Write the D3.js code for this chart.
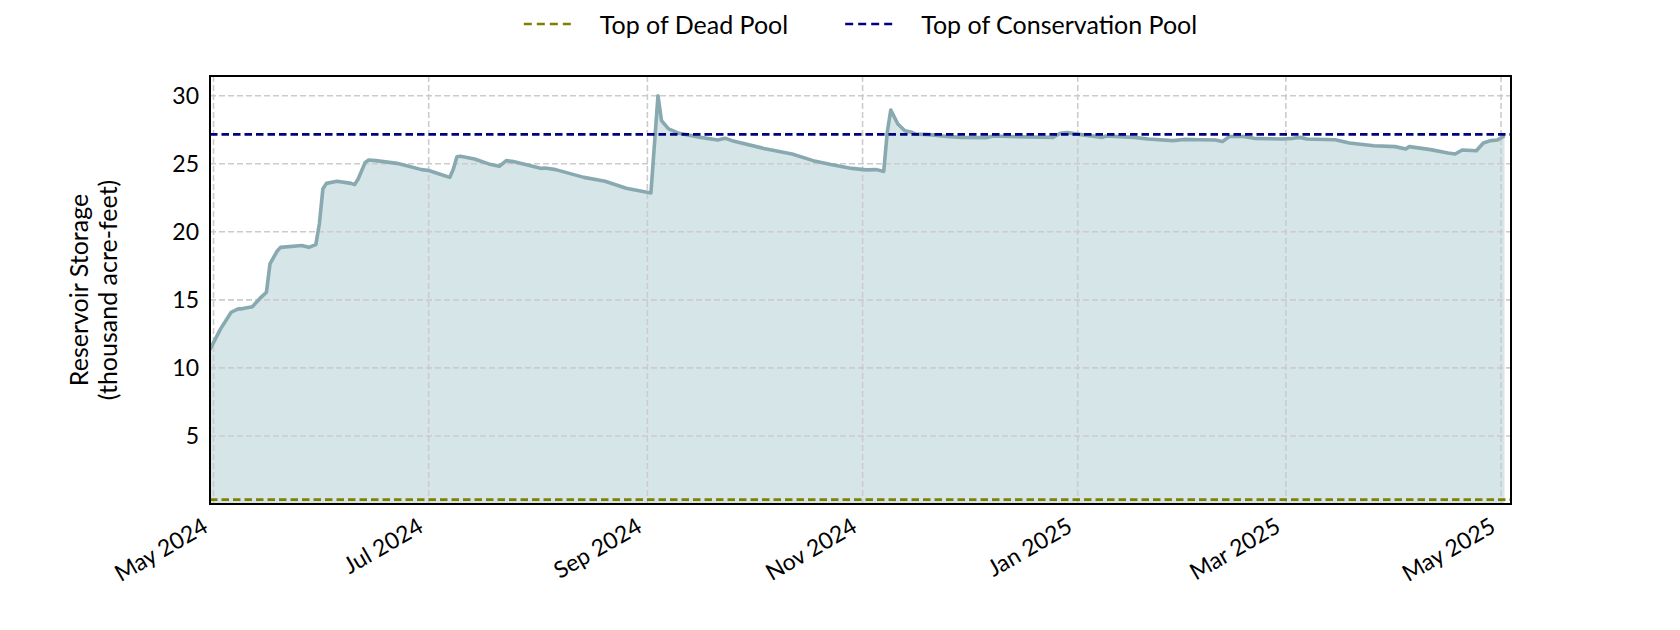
<!DOCTYPE html>
<html>
<head>
<meta charset="utf-8">
<script src="https://cdn.jsdelivr.net/npm/d3@7"></script>
<style>
  body { margin: 0; background: #fff; }
  svg { display: block; }
</style>
</head>
<body>
<svg id="chart" width="1680" height="630"></svg>
<script>
// daily storage readings (thousand acre-feet)
const dates = [
  "2024-04-30", "2024-05-03", "2024-05-06", "2024-05-08", "2024-05-09", "2024-05-12",
  "2024-05-14", "2024-05-16", "2024-05-17", "2024-05-19", "2024-05-20", "2024-05-26",
  "2024-05-28", "2024-05-30", "2024-05-31", "2024-06-01", "2024-06-02", "2024-06-05",
  "2024-06-09", "2024-06-10", "2024-06-11", "2024-06-13", "2024-06-14", "2024-06-16",
  "2024-06-22", "2024-06-29", "2024-07-01", "2024-07-04", "2024-07-07", "2024-07-08",
  "2024-07-09", "2024-07-10", "2024-07-14", "2024-07-18", "2024-07-21", "2024-07-23",
  "2024-07-25", "2024-08-02", "2024-08-03", "2024-08-06", "2024-08-14", "2024-08-20",
  "2024-08-26", "2024-09-02", "2024-09-04", "2024-09-05", "2024-09-07", "2024-09-10",
  "2024-09-16", "2024-09-21", "2024-09-23", "2024-09-25", "2024-10-04", "2024-10-12",
  "2024-10-18", "2024-10-23", "2024-10-29", "2024-11-02", "2024-11-05", "2024-11-07",
  "2024-11-08", "2024-11-09", "2024-11-11", "2024-11-13", "2024-11-15", "2024-11-16",
  "2024-11-20", "2024-11-25", "2024-11-29", "2024-12-06", "2024-12-08", "2024-12-18",
  "2024-12-25", "2024-12-27", "2024-12-29", "2025-01-02", "2025-01-08", "2025-01-09",
  "2025-01-17", "2025-01-21", "2025-01-28", "2025-01-31", "2025-02-05", "2025-02-09",
  "2025-02-11", "2025-02-13", "2025-02-17", "2025-02-20", "2025-02-28", "2025-03-03",
  "2025-03-05", "2025-03-07", "2025-03-15", "2025-03-19", "2025-03-26", "2025-04-01",
  "2025-04-04", "2025-04-05", "2025-04-11", "2025-04-16", "2025-04-18", "2025-04-20",
  "2025-04-24", "2025-04-26", "2025-04-28", "2025-04-30", "2025-05-02"
];
const storage = [
  11.35, 12.87, 14.09, 14.34, 14.34, 14.50,
  15.07, 15.56, 17.64, 18.57, 18.86, 18.99,
  18.86, 19.06, 20.58, 23.15, 23.56, 23.71,
  23.56, 23.47, 23.88, 25.10, 25.28, 25.23,
  25.03, 24.57, 24.50, 24.25, 24.00, 24.62,
  25.52, 25.55, 25.35, 24.99, 24.81, 25.23,
  25.16, 24.66, 24.69, 24.57, 24.00, 23.71,
  23.20, 22.86, 30.00, 28.17, 27.56, 27.24,
  26.94, 26.75, 26.87, 26.70, 26.13, 25.72,
  25.23, 24.94, 24.66, 24.55, 24.57, 24.44,
  27.31, 28.95, 27.92, 27.43, 27.31, 27.19,
  27.14, 27.01, 26.94, 26.92, 27.04, 26.97,
  26.94, 27.24, 27.29, 27.14, 26.94, 27.04,
  26.94, 26.82, 26.70, 26.79, 26.77, 26.75,
  26.63, 27.00, 27.00, 26.87, 26.82, 26.87,
  26.94, 26.82, 26.77, 26.53, 26.33, 26.26,
  26.09, 26.26, 26.04, 25.79, 25.72, 26.01,
  25.96, 26.53, 26.70, 26.75, 27.07
];

// pool levels
const deadPool = 0.32;
const conservationPool = 27.16;
const legendLabels = ["Top of Dead Pool", "Top of Conservation Pool"];

// ticks
const yTicks = [5, 10, 15, 20, 25, 30];
const xTickDates = ["2024-05-01", "2024-07-01", "2024-09-01", "2024-11-01", "2025-01-01", "2025-03-01", "2025-05-01"];
const xDomain = ["2024-04-30T00:00", "2025-05-03T20:00"];

const parse = d3.timeParse("%Y-%m-%d");
const parseT = d3.timeParse("%Y-%m-%dT%H:%M");
const data = dates.map((d, i) => ({ date: parse(d), value: storage[i] }));

const svg = d3.select('#chart');
const font = 'Lato, "Open Sans", sans-serif';
const pLeft = 210, pRight = 1511, pTop = 76, pBottom = 504;

const x = d3.scaleTime().domain(xDomain.map(parseT)).range([pLeft, pRight]);
const y = d3.scaleLinear().domain([0, 31.45]).range([pBottom, pTop]);

svg.append('rect').attr('width', 1680).attr('height', 630).attr('fill', '#fff');

svg.append('defs').append('clipPath').attr('id', 'plot-clip')
  .append('rect').attr('x', pLeft).attr('y', pTop).attr('width', pRight - pLeft).attr('height', pBottom - pTop);

const plot = svg.append('g').attr('clip-path', 'url(#plot-clip)');

// filled storage
plot.append('path')
  .datum(data)
  .attr('fill', '#d6e5e8')
  .attr('d', d3.area().x(d => x(d.date)).y0(y(0)).y1(d => y(d.value)));

// grid, drawn over the fill
plot.selectAll('line.gx')
  .data(xTickDates.map(parse))
  .enter().append('line')
    .attr('class', 'gx')
    .attr('x1', d => x(d)).attr('x2', d => x(d))
    .attr('y1', pTop).attr('y2', pBottom)
    .attr('stroke', '#cccccc').attr('stroke-width', 1.6)
    .attr('stroke-dasharray', '6,3');
plot.selectAll('line.gy')
  .data(yTicks)
  .enter().append('line')
    .attr('class', 'gy')
    .attr('x1', pLeft).attr('x2', pRight)
    .attr('y1', d => y(d)).attr('y2', d => y(d))
    .attr('stroke', '#cccccc').attr('stroke-width', 1.6)
    .attr('stroke-dasharray', '6,3');

// storage line
plot.append('path')
  .datum(data)
  .attr('fill', 'none')
  .attr('stroke', '#88a9b0')
  .attr('stroke-width', 3.6)
  .attr('stroke-linejoin', 'round')
  .attr('d', d3.line().x(d => x(d.date)).y(d => y(d.value)));

// pool reference lines
const pools = [
  { value: deadPool, color: '#808000', label: legendLabels[0] },
  { value: conservationPool, color: '#000080', label: legendLabels[1] }
];
plot.selectAll('line.pool')
  .data(pools)
  .enter().append('line')
    .attr('class', 'pool')
    .attr('x1', pLeft).attr('x2', pRight)
    .attr('y1', d => y(d.value)).attr('y2', d => y(d.value))
    .attr('stroke', d => d.color).attr('stroke-width', 2.7)
    .attr('stroke-dasharray', '7.5,4');

// frame
svg.append('rect')
  .attr('x', pLeft).attr('y', pTop).attr('width', pRight - pLeft).attr('height', pBottom - pTop)
  .attr('fill', 'none').attr('stroke', '#000').attr('stroke-width', 2);

// y axis
const yAxis = svg.append('g')
  .attr('transform', `translate(${pLeft},0)`)
  .call(d3.axisLeft(y).tickValues(yTicks).tickSize(0).tickPadding(11));
yAxis.select('.domain').remove();
yAxis.selectAll('text').attr('font-family', font).attr('font-size', 23).attr('fill', '#000');

// x axis
const xAxis = svg.append('g')
  .attr('transform', `translate(0,${pBottom})`)
  .call(d3.axisBottom(x).tickValues(xTickDates.map(parse)).tickFormat(d3.timeFormat('%b %Y')).tickSize(0));
xAxis.select('.domain').remove();
xAxis.selectAll('text')
  .attr('font-family', font).attr('font-size', 23).attr('fill', '#000')
  .attr('text-anchor', 'end')
  .attr('y', 0).attr('dy', '0.75em')
  .attr('transform', 'translate(-13,12) rotate(-30)');

// y label
svg.append('text')
  .attr('transform', `translate(88,${(pTop + pBottom) / 2}) rotate(-90)`)
  .attr('text-anchor', 'middle')
  .attr('font-family', font).attr('font-size', 25)
  .selectAll('tspan')
  .data(['Reservoir Storage', '(thousand acre-feet)'])
  .enter().append('tspan')
    .attr('x', 0)
    .attr('dy', (d, i) => i === 0 ? 0 : 28.5)
    .text(d => d);

// legend, centred over the plot
const legend = svg.append('g');
const items = legend.selectAll('g')
  .data(pools)
  .enter().append('g');
items.append('line')
  .attr('x1', 0).attr('x2', 52).attr('y1', 24).attr('y2', 24)
  .attr('stroke', d => d.color).attr('stroke-width', 2.7)
  .attr('stroke-dasharray', '8,5');
items.append('text')
  .attr('x', 76).attr('y', 34)
  .attr('font-family', font).attr('font-size', 25)
  .text(d => d.label);

let widths = [];
items.each(function () { widths.push(76 + d3.select(this).select('text').node().getComputedTextLength()); });
const gap = 57;
const total = d3.sum(widths) + gap * (widths.length - 1);
let cursor = (pLeft + pRight) / 2 - total / 2;
items.attr('transform', (d, i) => {
  const t = `translate(${cursor},0)`;
  cursor += widths[i] + gap;
  return t;
});
</script>
</body>
</html>
